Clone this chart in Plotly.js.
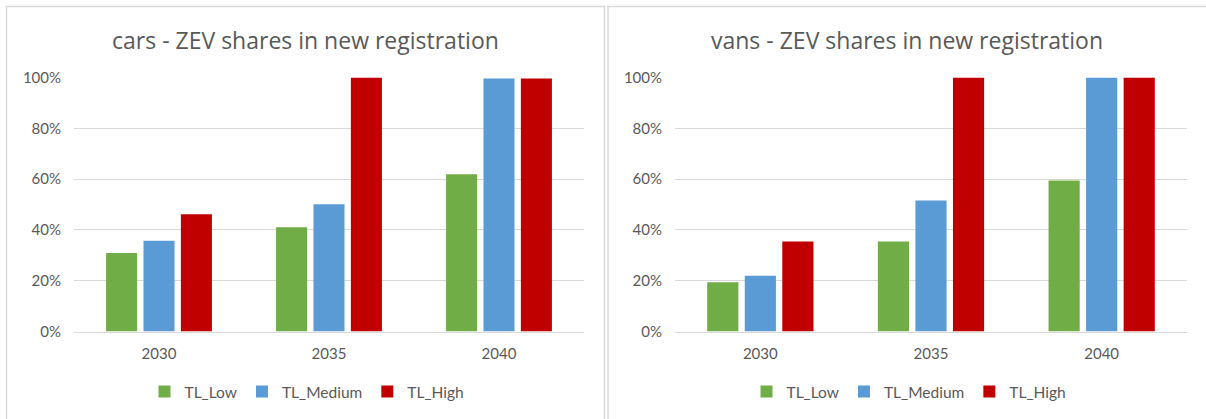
<!DOCTYPE html>
<html>
<head>
<meta charset="utf-8">
<script src="https://cdn.plot.ly/plotly-3.0.1.min.js"></script>
<style>html,body{margin:0;padding:0;background:#fff;}#chart{width:1206px;height:419px;}</style>
</head>
<body>
<div id="chart"></div>
<script>
const years = ['2030', '2035', '2040'];
const seriesNames = ['TL_Low', 'TL_Medium', 'TL_High'];
const seriesColors = ['#70ad47', '#5b9bd5', '#c00000'];
const carsLow = [0.309, 0.410, 0.619];
const carsMedium = [0.357, 0.501, 0.996];
const carsHigh = [0.462, 1.000, 0.996];
const vansLow = [0.194, 0.354, 0.594];
const vansMedium = [0.219, 0.516, 1.000];
const vansHigh = [0.354, 1.000, 1.000];
const carsTitle = 'cars - ZEV shares in new registration';
const vansTitle = 'vans - ZEV shares in new registration';

const W = 1206, H = 419;
const txt = '#595959';
const grid = '#d9d9d9';
const fontFam = 'Lato, "Open Sans", sans-serif';
const titleFam = '"Open Sans", Lato, sans-serif';

function mk(name, color, y, xa, ya, leg, show) {
  return {type: 'bar', name: name, x: years, y: y, xaxis: xa, yaxis: ya,
    marker: {color: color}, legend: leg, showlegend: show, hoverinfo: 'skip'};
}
const data = [
  mk(seriesNames[0], seriesColors[0], carsLow, 'x', 'y', 'legend', true),
  mk(seriesNames[1], seriesColors[1], carsMedium, 'x', 'y', 'legend', true),
  mk(seriesNames[2], seriesColors[2], carsHigh, 'x', 'y', 'legend', true),
  mk(seriesNames[0], seriesColors[0], vansLow, 'x2', 'y2', 'legend2', true),
  mk(seriesNames[1], seriesColors[1], vansMedium, 'x2', 'y2', 'legend2', true),
  mk(seriesNames[2], seriesColors[2], vansHigh, 'x2', 'y2', 'legend2', true)
];

const yDom = [1 - 331.5 / H, 1 - 77.5 / H];
function yax(anchor) {
  return {domain: yDom, anchor: anchor, range: [0, 1], dtick: 0.2, tick0: 0, tickformat: '.0%',
    showgrid: true, gridcolor: grid, gridwidth: 1, zeroline: false, showline: false,
    ticks: '', ticklabelstandoff: 12, tickfont: {family: fontFam, size: 15, color: txt}, fixedrange: true};
}
function xax(dom, anchor) {
  return {domain: dom, anchor: anchor, type: 'category', showgrid: false, zeroline: false,
    showline: true, linecolor: grid, linewidth: 1.5, ticks: '', ticklabelstandoff: 8,
    tickfont: {family: fontFam, size: 15, color: txt}, fixedrange: true};
}
const legFont = {family: fontFam, size: 15.5, color: txt};
const layout = {
  width: W, height: H,
  margin: {l: 0, r: 0, t: 0, b: 0},
  paper_bgcolor: '#ffffff', plot_bgcolor: '#ffffff',
  barmode: 'group', bargap: 0.34, bargroupgap: 0.17,
  xaxis: xax([74 / W, 584 / W], 'y'),
  yaxis: yax('x'),
  xaxis2: xax([675 / W, 1187 / W], 'y2'),
  yaxis2: yax('x2'),
  legend: {orientation: 'h', x: 307 / W, xanchor: 'center', y: 1 - 392 / H, yanchor: 'middle',
    font: legFont, itemwidth: 30, bgcolor: 'rgba(0,0,0,0)', traceorder: 'normal'},
  legend2: {orientation: 'h', x: 909 / W, xanchor: 'center', y: 1 - 392 / H, yanchor: 'middle',
    font: legFont, itemwidth: 30, bgcolor: 'rgba(0,0,0,0)', traceorder: 'normal'},
  annotations: [
    {text: carsTitle, xref: 'paper', yref: 'paper', x: 305 / W, y: 1 - 40 / H, xanchor: 'center', yanchor: 'middle',
      showarrow: false, font: {family: titleFam, size: 23, color: txt}},
    {text: vansTitle, xref: 'paper', yref: 'paper', x: 907 / W, y: 1 - 40 / H, xanchor: 'center', yanchor: 'middle',
      showarrow: false, font: {family: titleFam, size: 23, color: txt}}
  ],
  shapes: [
    {type: 'rect', xref: 'paper', yref: 'paper', x0: 6.5 / W, x1: 604.5 / W, y0: -0.1, y1: 1 - 6.5 / H,
      line: {color: grid, width: 1.5}, fillcolor: 'rgba(0,0,0,0)', layer: 'below'},
    {type: 'rect', xref: 'paper', yref: 'paper', x0: 608 / W, x1: 1.1, y0: -0.1, y1: 1 - 6.5 / H,
      line: {color: grid, width: 1.5}, fillcolor: 'rgba(0,0,0,0)', layer: 'below'}
  ]
};
Plotly.newPlot('chart', data, layout, {staticPlot: true, displayModeBar: false});
</script>
</body>
</html>
